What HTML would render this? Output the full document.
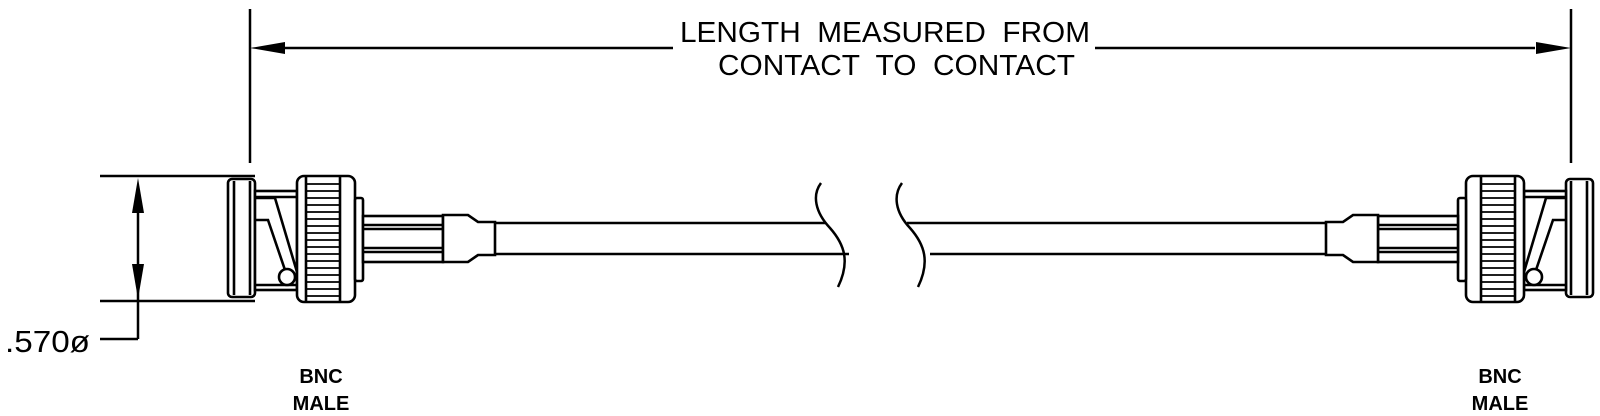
<!DOCTYPE html>
<html><head><meta charset="utf-8"><style>
html,body{margin:0;padding:0;background:#fff;}
svg{display:block;}
text{font-family:"Liberation Sans",Arial,sans-serif;fill:#000;}
</style></head><body>
<svg width="1600" height="416" viewBox="0 0 1600 416" xmlns="http://www.w3.org/2000/svg">
<g stroke="#000" stroke-width="2.5" fill="none">
  <line x1="250" y1="9" x2="250" y2="163"/>
  <line x1="1571" y1="9" x2="1571" y2="163"/>
  <line x1="285" y1="48" x2="673" y2="48"/>
  <line x1="1095" y1="48" x2="1535" y2="48"/>
  <line x1="100" y1="176" x2="255" y2="176"/>
  <line x1="100" y1="301" x2="255" y2="301"/>
  <line x1="138" y1="205" x2="138" y2="339"/>
  <line x1="138" y1="339" x2="100" y2="339"/>
  <line x1="495" y1="223" x2="826" y2="223"/>
  <line x1="495" y1="254" x2="849" y2="254"/>
  <line x1="907" y1="223" x2="1326" y2="223"/>
  <line x1="930" y1="254" x2="1326" y2="254"/>
  <path d="M821,183 C812,195 815,212 830,228 C845,245 850,262 838,287"/>
  <path d="M902,183 C893,195 895,212 910,228 C925,245 930,262 918,287"/>
</g>
<g fill="#000">
  <polygon points="250,48 285,42 285,54"/>
  <polygon points="1571,48 1536,42 1536,54"/>
  <polygon points="138,178 132,213 144,213"/>
  <polygon points="138,299 132,264 144,264"/>
</g>

<defs>
<g id="conn" stroke="#000" stroke-width="2.6" fill="#fff">
  <rect x="228" y="179" width="27" height="118" rx="4"/>
  <line x1="234" y1="181" x2="234" y2="295"/>
  <line x1="250" y1="181" x2="250" y2="295"/>
  <rect x="255" y="191" width="42" height="99"/>
  <line x1="255" y1="197" x2="297" y2="197" fill="none"/>
  <line x1="255" y1="285" x2="297" y2="285" fill="none"/>
  <path d="M255,198 H275 L297,272" fill="none"/>
  <path d="M255,220 H268 L285,270" fill="none"/>
  <circle cx="287" cy="277" r="8"/>
  <rect x="297" y="176" width="58" height="126" rx="7"/>
  <line x1="306" y1="177" x2="306" y2="301"/>
  <line x1="340" y1="177" x2="340" y2="301"/>
  <g stroke-width="1.8">
    <line x1="306" y1="184" x2="340" y2="184"/>
    <line x1="306" y1="191" x2="340" y2="191"/>
    <line x1="306" y1="198" x2="340" y2="198"/>
    <line x1="306" y1="205" x2="340" y2="205"/>
    <line x1="306" y1="212" x2="340" y2="212"/>
    <line x1="306" y1="219" x2="340" y2="219"/>
    <line x1="306" y1="226" x2="340" y2="226"/>
    <line x1="306" y1="233" x2="340" y2="233"/>
    <line x1="306" y1="240" x2="340" y2="240"/>
    <line x1="306" y1="247" x2="340" y2="247"/>
    <line x1="306" y1="254" x2="340" y2="254"/>
    <line x1="306" y1="261" x2="340" y2="261"/>
    <line x1="306" y1="268" x2="340" y2="268"/>
    <line x1="306" y1="275" x2="340" y2="275"/>
    <line x1="306" y1="282" x2="340" y2="282"/>
    <line x1="306" y1="289" x2="340" y2="289"/>
    <line x1="306" y1="296" x2="340" y2="296"/>
  </g>
  <rect x="355" y="198" width="8" height="83" rx="2"/>
  <rect x="363" y="216" width="80" height="46"/>
  <line x1="363" y1="225" x2="443" y2="225"/>
  <line x1="363" y1="229" x2="443" y2="229"/>
  <line x1="363" y1="248" x2="443" y2="248"/>
  <line x1="363" y1="252" x2="443" y2="252"/>
  <path d="M443,215 H468 L478,222 H495 V255 H478 L468,262 H443 Z"/>
</g>
</defs>
<use href="#conn"/>
<use href="#conn" transform="translate(1821,0) scale(-1,1)"/>

<text x="680" y="42" font-size="29" textLength="410" lengthAdjust="spacingAndGlyphs" xml:space="preserve">LENGTH  MEASURED  FROM</text>
<text x="718" y="75" font-size="29" textLength="357" lengthAdjust="spacingAndGlyphs" xml:space="preserve">CONTACT  TO  CONTACT</text>
<text x="5" y="352" font-size="31" textLength="85" lengthAdjust="spacingAndGlyphs">.570ø</text>
<g font-weight="bold" font-size="20" text-anchor="middle">
  <text x="321" y="383">BNC</text>
  <text x="321" y="410">MALE</text>
  <text x="1500" y="383">BNC</text>
  <text x="1500" y="410">MALE</text>
</g>
</svg>
</body></html>
